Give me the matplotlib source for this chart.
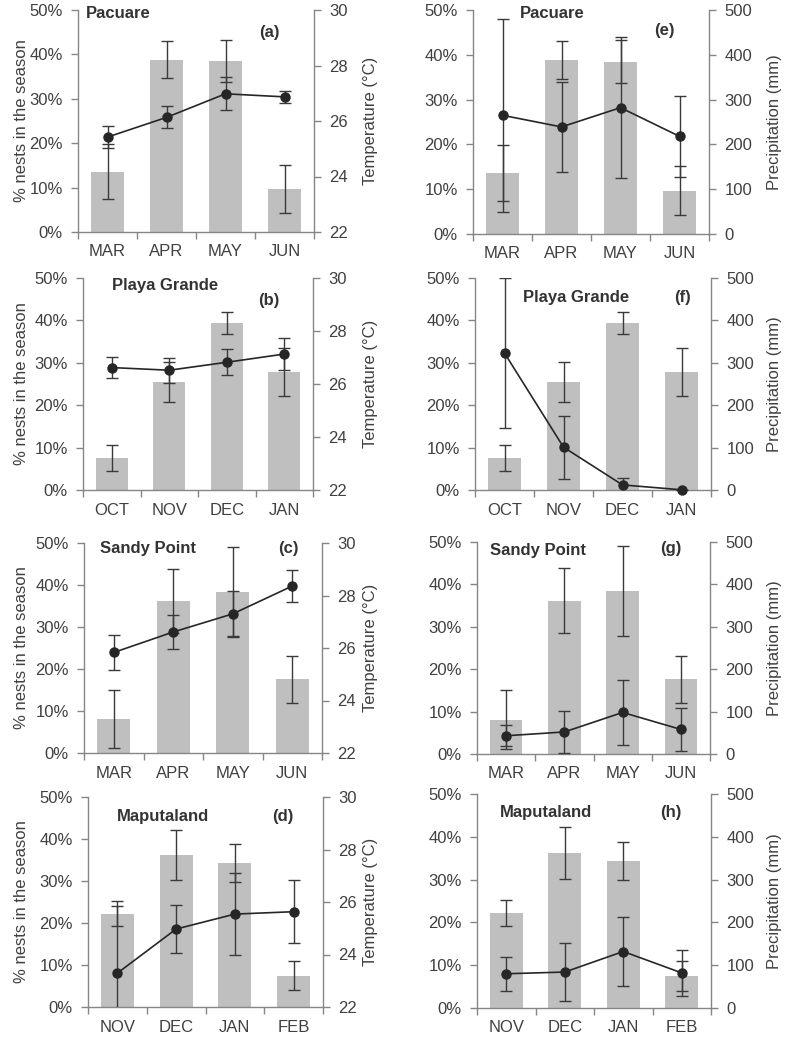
import matplotlib
matplotlib.use('Agg')
import matplotlib.pyplot as plt
from matplotlib.ticker import FuncFormatter, FixedLocator

plt.rcParams['font.family'] = ['Liberation Sans', 'DejaVu Sans']

# ---------------- data ----------------
sites = ['Pacuare', 'Playa Grande', 'Sandy Point', 'Maputaland']
months_pacuare = ['MAR', 'APR', 'MAY', 'JUN']
months_playa = ['OCT', 'NOV', 'DEC', 'JAN']
months_sandy = ['MAR', 'APR', 'MAY', 'JUN']
months_maputa = ['NOV', 'DEC', 'JAN', 'FEB']

nests_pacuare = [13.6, 38.8, 38.5, 9.7]
nests_pacuare_err = [6.2, 4.2, 4.8, 5.4]
temp_pacuare = [25.42, 26.13, 26.98, 26.87]
temp_pacuare_err = [0.4, 0.4, 0.6, 0.21]
prec_pacuare = [265, 239, 282, 218]
prec_pacuare_err = [215, 100, 157, 91]

nests_playa = [7.6, 25.5, 39.4, 27.8]
nests_playa_err = [3.05, 4.7, 2.65, 5.7]
temp_playa = [26.62, 26.52, 26.82, 27.13]
temp_playa_err = [0.4, 0.47, 0.49, 0.6]
prec_playa = [323, 101, 12, 0.5]
prec_playa_err = [177, 74, 16, 0]

nests_sandy = [8.1, 36.2, 38.4, 17.6]
nests_sandy_err = [7.0, 7.6, 10.6, 5.6]
temp_sandy = [25.83, 26.61, 27.30, 28.36]
temp_sandy_err = [0.66, 0.65, 0.88, 0.61]
prec_sandy = [43, 52, 98, 58]
prec_sandy_err = [25, 50, 76, 50]

nests_maputa = [22.2, 36.2, 34.3, 7.5]
nests_maputa_err = [3.0, 6.0, 4.5, 3.5]
temp_maputa = [23.29, 24.97, 25.54, 25.63]
temp_maputa_err = [2.55, 0.9, 1.57, 1.2]
prec_maputa = [80, 84, 132, 82]
prec_maputa_err = [40, 68, 81, 54]

temp_ticks = [22, 24, 26, 28, 30]
prec_ticks = [0, 100, 200, 300, 400, 500]
pct_ticks = [0, 10, 20, 30, 40, 50]

# ---------------- layout ----------------
W, H = 787, 1038
fig = plt.figure(figsize=(W / 100, H / 100), dpi=100)

TXT = '#404040'
SPN = '#868686'
BAR = '#bfbfbf'
ERR = '#3a3a3a'
LINE = '#262626'
FS = 12

panels = [
    # months, nests, nerr, clim, cerr, kind, letter, rect(l,t,r,b), title(x,y), letter(x,y)
    (months_pacuare, nests_pacuare, nests_pacuare_err, temp_pacuare, temp_pacuare_err, 'T', '(a)', (78, 10, 314, 232), (86, 14), (269, 32)),
    (months_playa, nests_playa, nests_playa_err, temp_playa, temp_playa_err, 'T', '(b)', (83, 278, 313, 490), (112, 285), (269, 300)),
    (months_sandy, nests_sandy, nests_sandy_err, temp_sandy, temp_sandy_err, 'T', '(c)', (84, 543, 322, 753), (100, 549), (288, 549)),
    (months_maputa, nests_maputa, nests_maputa_err, temp_maputa, temp_maputa_err, 'T', '(d)', (88, 797, 323, 1007), (117, 816), (283, 816)),
    (months_pacuare, nests_pacuare, nests_pacuare_err, prec_pacuare, prec_pacuare_err, 'P', '(e)', (473, 10, 709, 234), (520, 13), (664, 31)),
    (months_playa, nests_playa, nests_playa_err, prec_playa, prec_playa_err, 'P', '(f)', (475, 278, 711, 490), (523, 297), (682, 297)),
    (months_sandy, nests_sandy, nests_sandy_err, prec_sandy, prec_sandy_err, 'P', '(g)', (477, 542, 710, 754), (490, 550), (671, 549)),
    (months_maputa, nests_maputa, nests_maputa_err, prec_maputa, prec_maputa_err, 'P', '(h)', (477, 794, 711, 1008), (500, 812), (671, 812)),
]

for i, (months, nests, nerr, clim, cerr, kind, letter, rect, tpos, lpos) in enumerate(panels):
    l, t, r, b = rect
    ax = fig.add_axes([l / W, 1 - b / H, (r - l) / W, (b - t) / H])
    ax2 = ax.twinx()
    x = list(range(len(months)))

    ax.bar(x, nests, width=0.56, color=BAR, zorder=1)
    ax.errorbar(x, nests, yerr=nerr, fmt='none', ecolor=ERR, elinewidth=1.0,
                capsize=4, capthick=1.0, zorder=2)
    ax.set_xlim(-0.5, len(months) - 0.5)
    ax.set_ylim(0, 50)
    ax.yaxis.set_major_locator(FixedLocator(pct_ticks))
    ax.yaxis.set_major_formatter(FuncFormatter(lambda v, p: f'{v:.0f}%'))
    ax.set_xticks([k - 0.5 for k in range(len(months) + 1)])
    ax.set_xticklabels([])
    ax.set_xticks(x, minor=True)
    ax.set_xticklabels(months, minor=True)
    ax.tick_params(axis='x', which='major', direction='out', length=5, color=SPN, width=1)
    ax.tick_params(axis='x', which='minor', length=0, pad=9, labelsize=FS, labelcolor=TXT)
    ax.tick_params(axis='y', direction='out', length=5, color=SPN, width=1, pad=6,
                   labelsize=FS, labelcolor=TXT)

    ax2.errorbar(x, clim, yerr=cerr, fmt='none', ecolor=ERR, elinewidth=1.0,
                 capsize=4, capthick=1.0, zorder=3)
    ax2.plot(x, clim, color=LINE, lw=1.2, marker='o', markersize=6.5,
             markerfacecolor=LINE, markeredgecolor=LINE, zorder=4, clip_on=False)
    if kind == 'T':
        ax2.set_ylim(22, 30)
        ax2.yaxis.set_major_locator(FixedLocator(temp_ticks))
        ax2.set_ylabel('Temperature (°C)', fontsize=FS, color=TXT)
        ax2.yaxis.set_label_coords((363 - l) / (r - l), 0.5)
        ax.set_ylabel('% nests in the season', fontsize=FS, color=TXT)
        ax.yaxis.set_label_coords((29 - l) / (r - l), 0.5)
    else:
        ax2.set_ylim(0, 500)
        ax2.yaxis.set_major_locator(FixedLocator(prec_ticks))
        ax2.set_ylabel('Precipitation (mm)', fontsize=FS, color=TXT)
        ax2.yaxis.set_label_coords((767 - l) / (r - l), 0.5)
    ax2.yaxis.set_major_formatter(FuncFormatter(lambda v, p: f'{v:.0f}'))
    ax2.tick_params(axis='y', direction='out', length=5, color=SPN, width=1, pad=6,
                    labelsize=FS, labelcolor=TXT)

    for a in (ax, ax2):
        a.spines['top'].set_visible(False)
        for s in ('left', 'right', 'bottom'):
            a.spines[s].set_color(SPN)
            a.spines[s].set_linewidth(1.0)
    ax2.spines['left'].set_visible(False)
    ax2.spines['bottom'].set_visible(False)
    ax.spines['right'].set_visible(False)
    ax.set_zorder(1)
    ax2.set_zorder(2)
    ax.patch.set_visible(False)

    site = sites[i % 4]
    ax2.text((tpos[0] - l) / (r - l), (b - tpos[1]) / (b - t), site, transform=ax2.transAxes,
             ha='left', va='center', fontsize=FS, fontweight='bold', color='#333333')
    ax2.text((lpos[0] - l) / (r - l), (b - lpos[1]) / (b - t), letter, transform=ax2.transAxes,
             ha='center', va='center', fontsize=FS, fontweight='bold', color='#333333')

fig.savefig('out.png', dpi=100)
